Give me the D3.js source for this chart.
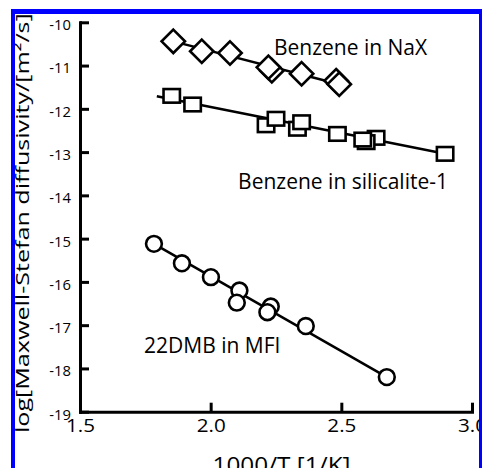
<!DOCTYPE html>
<html>
<head>
<meta charset="utf-8">
<script src="https://cdn.jsdelivr.net/npm/d3@7"></script>
<style>
  html, body { margin: 0; padding: 0; background: #fff; }
  svg { display: block; font-family: "Open Sans", sans-serif; }
</style>
</head>
<body>
<svg id="chart" width="484" height="468"></svg>
<script>
// ---- data ----
const xTicks = [1.5, 2.0, 2.5, 3.0];
const yTicks = [-10, -11, -12, -13, -14, -15, -16, -17, -18, -19];

// Benzene in NaX (diamonds)
const naxX = [1.857, 1.966, 2.074, 2.234, 2.221, 2.348, 2.480, 2.492];
const naxY = [-10.44, -10.67, -10.71, -11.12, -11.04, -11.19, -11.35, -11.43];
const naxFitX = [1.857, 2.492];
const naxFitY = [-10.44, -11.43];

// Benzene in silicalite-1 (squares)
const silX = [1.851, 1.931, 2.212, 2.250, 2.332, 2.348, 2.485, 2.633, 2.595, 2.582, 2.897];
const silY = [-11.70, -11.90, -12.38, -12.23, -12.46, -12.31, -12.58, -12.67, -12.77, -12.71, -13.04];
const silFitX = [1.794, 2.897];
const silFitY = [-11.71, -13.04];

// 22DMB in MFI (circles)
const mfiX = [1.783, 1.890, 2.001, 2.110, 2.100, 2.230, 2.217, 2.364, 2.674];
const mfiY = [-15.12, -15.57, -15.89, -16.20, -16.48, -16.57, -16.70, -17.02, -18.20];
const mfiFitX = [1.783, 2.674];
const mfiFitY = [-15.12, -18.20];

// annotation labels (anchored in data coordinates)
const labelText = ["Benzene in NaX", "Benzene in silicalite-1", "22DMB in MFI"];
const labelX = [2.242, 2.105, 1.745];
const labelY = [-10.763, -13.86, -17.64];

const xTitle = "1000/T [1/K]";
const yTitle = "log[Maxwell-Stefan diffusivity/[m\u00B2/s]]";

// ---- drawing ----
const svg = d3.select("#chart");
const x = d3.scaleLinear().domain([1.5, 3.0]).range([80, 472]);
const y = d3.scaleLinear().domain([-19, -10]).range([411.7, 22.3]);

svg.append("defs").append("clipPath").attr("id", "frameClip")
  .append("rect").attr("x", 15).attr("y", 14).attr("width", 464).attr("height", 454);

const g = svg.append("g").attr("clip-path", "url(#frameClip)");

// axes
const yAxis = d3.axisLeft(y).tickValues(yTicks).tickSize(-9).tickSizeOuter(0).tickPadding(9)
  .tickFormat(d => d3.format("d")(d).replace("\u2212", "-"));
const xAxis = d3.axisBottom(x).tickValues(xTicks).tickSize(-9).tickSizeOuter(0).tickPadding(6.5)
  .tickFormat(d3.format(".1f"));

const gy = g.append("g").attr("transform", "translate(80,0)").call(yAxis);
const gx = g.append("g").attr("transform", "translate(0,411.7)").call(xAxis);

[gx, gy].forEach(ax => {
  ax.select(".domain").attr("stroke", "#000").attr("stroke-width", 3).attr("stroke-linecap", "square");
  ax.selectAll(".tick line").attr("stroke", "#000").attr("stroke-width", 3);
  ax.selectAll(".tick text").attr("fill", "#000").attr("font-family", "Open Sans");
});
gy.selectAll(".tick text").attr("font-size", 14.8).attr("dy", "0.5em");
gx.selectAll(".tick text").attr("font-size", 19).attr("textLength", 29).attr("lengthAdjust", "spacingAndGlyphs");

// fit lines
const line = d3.line().x(d => x(d[0])).y(d => y(d[1]));
[[naxFitX, naxFitY], [silFitX, silFitY], [mfiFitX, mfiFitY]].forEach(([fx, fy]) => {
  g.append("path").datum(fx.map((v, i) => [v, fy[i]]))
    .attr("d", line).attr("fill", "none").attr("stroke", "#000").attr("stroke-width", 2.5);
});

// markers
const mStyle = sel => sel.attr("fill", "#fff").attr("stroke", "#000").attr("stroke-width", 2.6);

g.append("g").selectAll("path").data(naxX.map((v, i) => [v, naxY[i]])).join("path")
  .attr("d", d => {
    const cx = x(d[0]), cy = y(d[1]), r = 11.7;
    return `M${cx},${cy - r}L${cx + r},${cy}L${cx},${cy + r}L${cx - r},${cy}Z`;
  }).call(mStyle);

g.append("g").selectAll("rect").data(silX.map((v, i) => [v, silY[i]])).join("rect")
  .attr("x", d => x(d[0]) - 8.2).attr("y", d => y(d[1]) - 6.8)
  .attr("width", 16.4).attr("height", 13.6).call(mStyle);

g.append("g").selectAll("circle").data(mfiX.map((v, i) => [v, mfiY[i]])).join("circle")
  .attr("cx", d => x(d[0])).attr("cy", d => y(d[1])).attr("r", 7.9).call(mStyle);

// annotation labels
g.append("g").selectAll("text").data(labelText).join("text")
  .attr("x", (d, i) => x(labelX[i])).attr("y", (d, i) => y(labelY[i]))
  .attr("font-size", 21).attr("fill", "#000").text(d => d);

// axis titles
g.append("text").attr("x", 281.5).attr("y", 473).attr("text-anchor", "middle")
  .attr("font-size", 21).attr("textLength", 138).attr("lengthAdjust", "spacingAndGlyphs")
  .attr("fill", "#000").text(xTitle);

g.append("text").attr("transform", "translate(29,433) rotate(-90)")
  .attr("font-size", 18).attr("textLength", 428).attr("lengthAdjust", "spacingAndGlyphs")
  .attr("fill", "#000").text(yTitle);

// blue frame
const frame = svg.append("g").attr("fill", "#0000ff");
frame.append("rect").attr("x", 11).attr("y", 9).attr("width", 471).attr("height", 5);
frame.append("rect").attr("x", 11).attr("y", 9).attr("width", 4).attr("height", 459);
frame.append("rect").attr("x", 479).attr("y", 9).attr("width", 3).attr("height", 459);
</script>
</body>
</html>
